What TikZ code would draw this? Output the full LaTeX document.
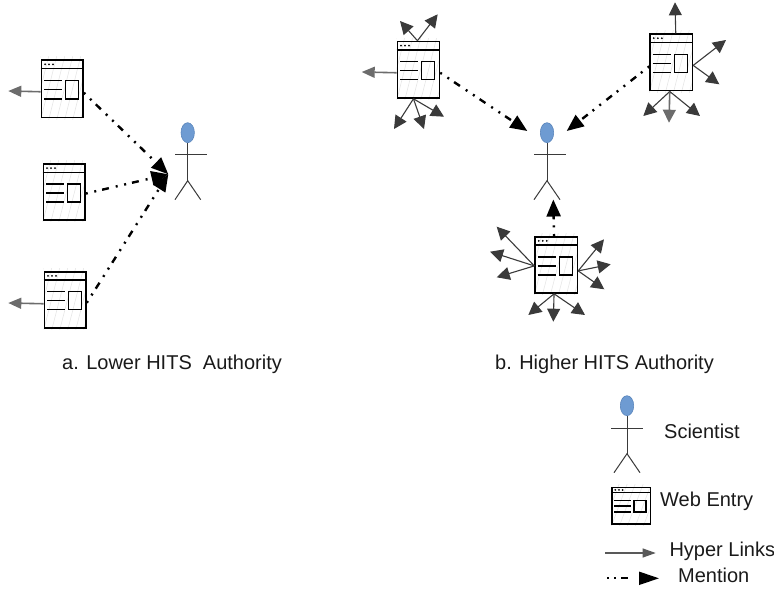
\documentclass[tikz,border=0pt]{standalone}
\usepackage{fontspec}
\setmainfont{Liberation Sans}
\usetikzlibrary{arrows.meta,shapes.geometric}
\definecolor{headblue}{HTML}{6E9BD2}
\definecolor{headedge}{HTML}{5B86BC}
\definecolor{hatchgray}{HTML}{E6E6E6}
\definecolor{linkgray}{HTML}{3A3A3A}
\definecolor{txt}{HTML}{1A1A1A}
\tikzset{
  x=1pt,y=-1pt,
  entrybox/.style={draw=black,line width=1.5pt,rectangle,inner sep=0pt,anchor=north west},
  entryline/.style={draw=black,line width=1.4pt},
  hatch/.style={draw=hatchgray,line width=0.6pt},
  link/.style={draw=linkgray,line width=1.1pt,-{Triangle[length=13pt,width=13pt]}},
  linkh/.style={draw=gray!85!black,line width=1.6pt,-{Triangle[length=13pt,width=11pt]}},
  mention/.style={draw=black,line width=2.4pt,dash pattern=on 2pt off 6.7pt on 2pt off 6pt on 7pt off 7pt,-{Triangle[length=17pt,width=14pt]}},
  stick/.style={draw=linkgray,line width=1pt},
  headshape/.style={ellipse,draw=headedge,fill=headblue,line width=0.6pt,minimum width=13.4pt,minimum height=20pt,inner sep=0pt},
  txtlabel/.style={font=\fontsize{20}{22}\selectfont,text=txt,anchor=base west,inner sep=0pt},
}
% name, x, y, width, height
\newcommand{\webentry}[5]{%
  \begin{scope}
    \clip (#2,#3-2.5) rectangle (#2+#4,#3+#5+2.5);
    \foreach \k in {-6,...,10} {
      \draw[hatch] (#2+\k*8,#3+#5+3) -- (#2+\k*8+16,#3-3);
    }
  \end{scope}
  \node[entrybox,minimum width=#4 pt,minimum height=#5 pt] (#1) at (#2,#3) {};
  \path[entryline] (#2,#3+#5*0.163) -- (#2+#4,#3+#5*0.163);
  \foreach \d in {0.105,0.2,0.295} {
    \fill (#2+#4*\d,#3+#5*0.087) circle (1pt);
  }
  \foreach \l in {0.37,0.53,0.69} {
    \path[entryline] (#2+#4*0.08,#3+#5*\l) -- (#2+#4*0.51,#3+#5*\l);
  }
  \path[entryline] (#2+#4*0.59,#3+#5*0.37) rectangle (#2+#4*0.905,#3+#5*0.69);
}
% name, head x, head y, arm left, arm right, leg left, leg right
\newcommand{\scientist}[7]{%
  \path[stick] (#2,#3+10) -- (#2,#3+48);
  \path[stick] (#4,#3+22.3) -- (#5,#3+22.3);
  \path[stick] (#6,#3+67) -- (#2,#3+48) -- (#7,#3+67);
  \node[headshape] (#1) at (#2,#3) {};
}
\begin{document}
\begin{tikzpicture}
\useasboundingbox (0,0) rectangle (774,591);
% web entries
\webentry{ea}{40.7}{59.3}{41.6}{57.4}
\webentry{eb}{42.7}{163.3}{41.6}{56}
\webentry{ec}{43.7}{271}{41.6}{56}
\webentry{ed}{396.7}{40.7}{42}{56.6}
\webentry{ee}{649.3}{33.3}{42.4}{56.7}
\webentry{ef}{534.3}{236}{42.4}{56.3}
\webentry{eg}{611.3}{486.7}{38.4}{36.6}
% scientists
\scientist{sa}{187.7}{132.7}{175}{206.7}{175}{200.7}
\scientist{sb}{547}{132.7}{534}{566}{534}{560}
\scientist{sc}{627}{405.7}{611.3}{642.7}{614}{640}
% free ends
\coordinate (ta) at (168.3,174.3);
\coordinate (tb) at (527.3,131);
\coordinate (tc) at (566.7,131);
\coordinate (td) at (553.3,199.5);
\foreach \n/\x/\y in {a1/8.3/91,c1/8.3/303,d1/361.7/72,
  d2/400/21,d3/437.7/14.3,d4/394/129,d5/424/129,d6/444/116.7,
  e1/675/2.3,e2/726/40,e3/719.3/84.3,e4/643.3/116,e5/669/122.7,e6/700/116,
  f1/496.7/226.7,f2/490/251.7,f3/496.7/277.3,f4/604/239.3,f5/610.7/264.3,f6/604.3/289.3,
  f7/528.3/315,f8/553.3/321.7,f9/585/315,
  h1/605/553,h2/655.7/553,m1/607.3/578.3,m2/659/578.3} {
  \coordinate (\n) at (\x,\y);
}
% mentions
\draw[mention] ([yshift=-4pt]ea.east) -- (ta);
\draw[mention] ([yshift=-1.5pt]eb.east) -- (ta);
\draw[mention] ([yshift=-3pt]ec.east) -- (ta);
\draw[mention] ([yshift=-3pt]ed.east) -- (tb);
\draw[mention] ([yshift=-4pt]ee.west) -- (tc);
\draw[mention] ([xshift=-2.2pt]ef.north) -- (td);
% hyper links
\draw[linkh] ([yshift=-3pt]ea.west) -- (a1);
\draw[linkh] ([yshift=-4pt]ec.west) -- (c1);
\draw[linkh] ([yshift=-3pt]ed.west) -- (d1);
\draw[link] ([xshift=-1pt]ed.north) -- (d2);
\draw[link] ([xshift=-1pt]ed.north) -- (d3);
\draw[link] ([xshift=-5pt]ed.south) -- (d4);
\draw[link] ([xshift=-5pt]ed.south) -- (d5);
\draw[link] ([xshift=-5pt]ed.south) -- (d6);
\draw[link] ([xshift=4.5pt]ee.north) -- (e1);
\draw[link] ([yshift=-3pt]ee.east) -- (e2);
\draw[link] ([yshift=-3pt]ee.east) -- (e3);
\draw[link] ([xshift=-1.5pt]ee.south) -- (e4);
\draw[linkh,-{Triangle[length=13pt,width=13pt]}] ([xshift=-1.5pt]ee.south) -- (e5);
\draw[link] ([xshift=-1.5pt]ee.south) -- (e6);
\draw[link] ([yshift=-1pt]ef.west) -- (f1);
\draw[link] ([yshift=-1pt]ef.west) -- (f2);
\draw[link] ([yshift=-1pt]ef.west) -- (f3);
\draw[link] ([yshift=-6pt]ef.east) -- (f4);
\draw[link] ([yshift=-6pt]ef.east) -- (f5);
\draw[link] ([yshift=-6pt]ef.east) -- (f6);
\draw[link] ([xshift=-2.2pt]ef.south) -- (f7);
\draw[link] ([xshift=-2.2pt]ef.south) -- (f8);
\draw[link] ([xshift=-2.2pt]ef.south) -- (f9);
% legend
\draw[draw=gray!70!black,line width=1.1pt,-{Triangle[length=13pt,width=9pt]}] (h1) -- (h2);
\draw[draw=black,line width=2pt,dash pattern=on 2pt off 5pt on 2pt off 5pt on 7pt off 30pt,-{Triangle[length=20pt,width=13pt]}] (m1) -- (m2);
% labels
\node[txtlabel] (la) at (62,369) {a. Lower HITS\ \ Authority};
\node[txtlabel] (lb) at (495,369) {b. Higher HITS Authority};
\node[txtlabel] (l1) at (664,438) {Scientist};
\node[txtlabel] (l2) at (660,506) {Web Entry};
\node[txtlabel] (l3) at (669.3,556.7) {Hyper Links};
\node[txtlabel] (l4) at (678,582.7) {Mention};
\end{tikzpicture}
\end{document}
